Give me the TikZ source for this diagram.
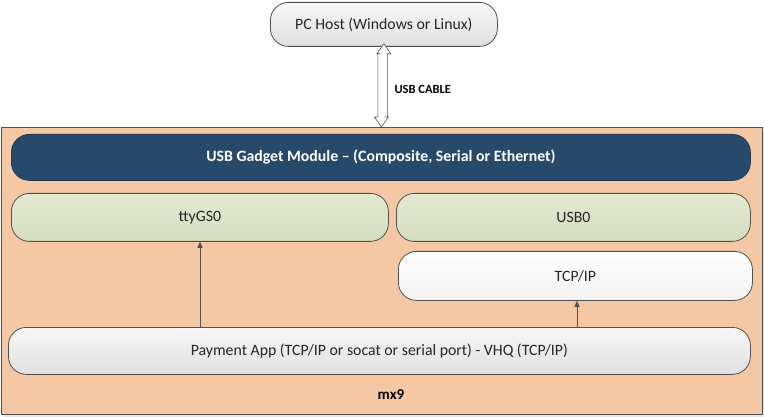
\documentclass[tikz,border=0pt]{standalone}
\usepackage{fontspec}
\setmainfont{Carlito}
\usetikzlibrary{calc,arrows.meta}
\definecolor{peach}{HTML}{F4C8A4}
\definecolor{navy}{HTML}{274A6B}
\definecolor{greenA}{HTML}{E3E9D2}
\definecolor{greenB}{HTML}{D5DEBD}
\definecolor{greyA}{HTML}{F7F7F7}
\definecolor{greyB}{HTML}{E0E0E0}
\definecolor{edge}{HTML}{505050}
\tikzset{
  px/.style={x=1pt,y=-1pt},
  rbox/.style={draw=edge, line width=0.8pt, rounded corners=18pt, inner sep=0pt, font=\fontsize{15.8}{18}\selectfont, text=black!85},
  greybox/.style={rbox, top color=greyA, bottom color=greyB},
  greenbox/.style={rbox, top color=greenA, bottom color=greenB},
  whitebox/.style={rbox, top color=white, bottom color=white!95!black},
  navybox/.style={rbox, fill=navy, draw=navy!80!black, text=white, font=\fontsize{15.8}{18}\selectfont\bfseries},
  conn/.style={draw=edge, line width=0.8pt, -{Triangle[length=6pt,width=5pt]}},
}
\begin{document}
\begin{tikzpicture}[px]
\useasboundingbox (0,0) rectangle (764,417);
% outer mx9 box
\fill[black!10] (3,131) rectangle (764,417);
\node[draw=edge, line width=0.8pt, fill=peach, minimum width=761pt, minimum height=287pt, inner sep=0pt, anchor=north west] (mx) at (0.5,127) {};
\node[font=\fontsize{15}{18}\selectfont\bfseries] (mxl) at (391,395) {mx9};
% PC host
\node[greybox, minimum width=227pt, minimum height=44pt, anchor=north west] (pc) at (270,2) {PC Host (Windows or Linux)};
% USB cable double arrow
\coordinate (ta) at ($(pc.south)+(0,-3)$);
\coordinate (tb) at (mx.north);
\draw[edge, fill=white, line width=0.6pt]
  ($(ta)$) -- ++(7,10) -- ++(-3.5,0) |- ($(tb)+(3.5,-10)$) -- ++(3.5,0) -- (tb)
  -- ++(-7,-10) -- ++(3.5,0) |- ($(ta)+(-3.5,10)$) -- ++(-3.5,0) -- cycle;
\node[font=\fontsize{12.5}{15}\selectfont\bfseries, anchor=west] (cable) at (391,89) {USB CABLE};
% inner boxes
\node[navybox, minimum width=739pt, minimum height=46pt, anchor=north west] (gadget) at (11,134) {USB Gadget Module – (Composite, Serial or Ethernet)};
\node[greenbox, minimum width=377pt, minimum height=48pt, anchor=north west] (tty) at (11,193) {ttyGS0};
\node[greenbox, minimum width=354pt, minimum height=48pt, anchor=north west] (usb) at (396,193) {USB0};
\node[whitebox, minimum width=354pt, minimum height=49pt, anchor=north west] (tcp) at (398,251) {TCP/IP};
\node[greybox, minimum width=742pt, minimum height=47pt, anchor=north west] (app) at (8,327) {Payment App (TCP/IP or socat or serial port) - VHQ (TCP/IP)};
% connectors
\draw[conn] (app.north -| 200,0) -- (tty.south -| 200,0);
\draw[conn] (app.north -| 577,0) -- (tcp.south -| 577,0);
\end{tikzpicture}
\end{document}
